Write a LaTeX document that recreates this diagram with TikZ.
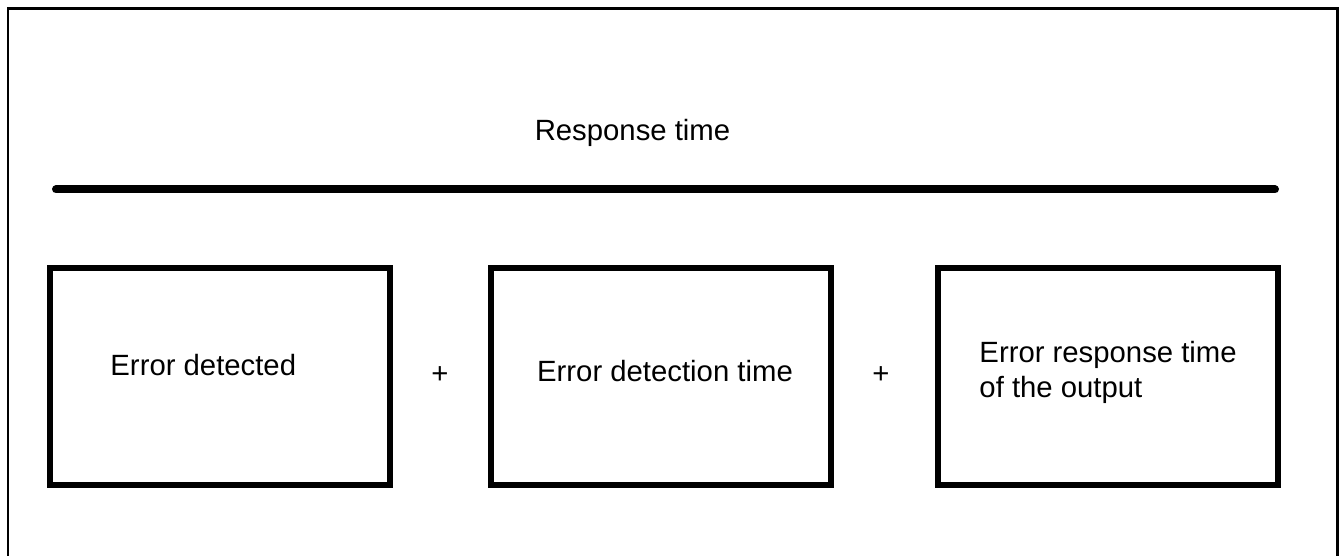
\documentclass[tikz,border=0pt]{standalone}
\usepackage{fontspec}
\setmainfont{Liberation Sans}
\usetikzlibrary{positioning}

\tikzset{
  box/.style={draw, line width=5.5pt, minimum width=340pt, minimum height=217pt, inner sep=0pt},
  lbl/.style={font=\fontsize{29.3}{35}\selectfont, inner sep=0pt},
}

\begin{document}
\begin{tikzpicture}[x=1pt, y=-1pt]
            \useasboundingbox (0,0) rectangle (1343,556);

            % Outer frame (open at the bottom)
            \draw[line width=2.6pt] (8,556) -- (8,8.5) -- (1337.5,8.5) -- (1337.5,556);

            % Title and rule
            \node[lbl, anchor=base] (title) at (632.5,141) {Response time};
            \coordinate (ruleL) at (56,189.5);
            \coordinate (ruleR) at (1275,189.5);
            \draw[line width=8pt, line cap=round] (ruleL) -- (ruleR);

            % The three boxes
            \node[box] (detected) at (220,376.5) {};
            \node[box] (detection) at (661,376.5) {};
            \node[box] (output) at (1108,376.5) {};

            % Texts in the boxes
            \node[lbl, anchor=base west] (detectedtxt) at ([xshift=63pt, yshift=1.5pt]detected.west) {Error detected};
            \node[lbl, anchor=base] (detectiontxt) at ([xshift=4pt, yshift=-5pt]detection.center) {Error detection time};
            \node[lbl, anchor=base west, align=left] (outputtxt) at ([xshift=44pt, yshift=-20.5pt]output.west) {Error response time\\of the output};

            % Plus signs
            \node[lbl, anchor=base] (plusA) at (440,383) {+};
            \node[lbl, anchor=base] (plusB) at (881,383) {+};
\end{tikzpicture}
\end{document}
